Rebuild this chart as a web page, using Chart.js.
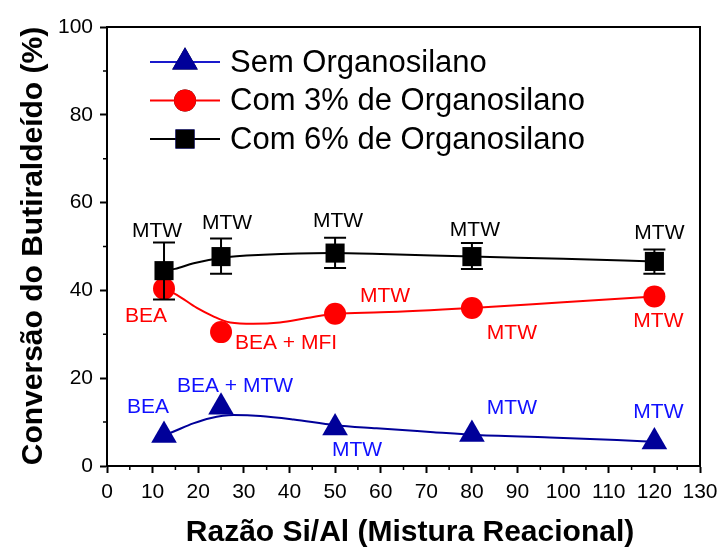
<!DOCTYPE html>
<html>
<head>
<meta charset="utf-8">
<script src="https://cdn.jsdelivr.net/npm/chart.js@4.4.1/dist/chart.umd.min.js"></script>
<style>
  html, body { margin: 0; padding: 0; background: #fff; }
  #wrap { width: 721px; height: 551px; }
</style>
</head>
<body>
<div id="wrap"><canvas id="c" width="721" height="551"></canvas></div>
<script>
// Si/Al ratio of the reaction mixture
const siAlRatio = [12.5, 25, 50, 80, 120];

// Butyraldehyde conversion (%)
const semOrgano  = [7.0, 13.4, 8.7, 7.2, 5.5];
const com3Organo = [40.4, 30.5, 34.7, 36.0, 38.6];
const com6Organo = [44.5, 47.7, 48.5, 47.7, 46.6];
const com6ErrUpper = [50.9, 51.8, 52.0, 50.8, 49.3];
const com6ErrLower = [37.9, 43.8, 45.1, 44.9, 43.8];

// Phases identified for each sample
const semPhases  = ['BEA', 'BEA + MTW', 'MTW', 'MTW', 'MTW'];
const com3Phases = ['BEA', 'BEA + MFI', 'MTW', 'MTW', 'MTW'];
const com6Phases = ['MTW', 'MTW', 'MTW', 'MTW', 'MTW'];

// Smoothed trend curves
const semFitX  = [12.5, 14.5, 18.9, 22.6, 27.7, 33.6, 40.9, 50, 59.1, 71.6, 80, 97.1, 111.8, 120];
const semFitY  = [7.0, 7.8, 9.7, 10.9, 11.6, 11.4, 10.6, 9.3, 8.6, 7.7, 7.1, 6.5, 5.9, 5.5];
const com3FitX = [12.5, 15.3, 19.7, 23.3, 27.0, 32.1, 37.9, 43.8, 50, 60, 80, 100, 120];
const com3FitY = [40.4, 39.0, 36.0, 34.1, 32.7, 32.4, 32.7, 33.7, 34.7, 35.0, 36.0, 37.3, 38.6];
const com6FitX = [12.5, 14.9, 19.0, 25, 34.3, 48.9, 60, 80, 100, 120];
const com6FitY = [44.5, 44.9, 46.2, 47.4, 48.1, 48.5, 48.3, 47.7, 47.2, 46.6];

// Axis ticks
const xTicks = [0, 10, 20, 30, 40, 50, 60, 70, 80, 90, 100, 110, 120, 130];
const yTicks = [0, 20, 40, 60, 80, 100];

const NAVY = '#000099';
const BLUE_TXT = '#1010ff';
const RED = '#ff0000';
const BLACK = '#000000';
const FONT = '"Liberation Sans", Arial, Helvetica, sans-serif';

const pts = (xs, ys) => xs.map((x, i) => ({ x: x, y: ys[i] }));

// pixel offsets of the phase labels from their markers
const com6LabelOff = [[-7, -39], [6, -33], [3, -32], [3, -26], [5, -28]];
const com3LabelOff = [[-18, 28], [65, 11], [50, -17], [40, 25], [4, 25]];
const semLabelOff  = [[-16, -28], [14, -21], [22, 22], [40, -26], [4, -30]];

const overlay = {
  id: 'overlay',
  afterDatasetsDraw(chart) {
    const ctx = chart.ctx;
    const xs = chart.scales.x, ys = chart.scales.y;

    // error bars
    ctx.save();
    ctx.strokeStyle = BLACK;
    ctx.lineWidth = 2;
    siAlRatio.forEach((v, i) => {
      const px = xs.getPixelForValue(v);
      const top = ys.getPixelForValue(com6ErrUpper[i]);
      const bot = ys.getPixelForValue(com6ErrLower[i]);
      ctx.beginPath();
      ctx.moveTo(px, top); ctx.lineTo(px, bot);
      ctx.moveTo(px - 11, top); ctx.lineTo(px + 11, top);
      ctx.moveTo(px - 11, bot); ctx.lineTo(px + 11, bot);
      ctx.stroke();
    });
    ctx.restore();
  },
  afterDraw(chart) {
    const ctx = chart.ctx;
    const xs = chart.scales.x, ys = chart.scales.y;
    const a = chart.chartArea;

    ctx.save();
    // frame
    ctx.strokeStyle = BLACK;
    ctx.lineWidth = 2;
    ctx.strokeRect(a.left, a.top, a.right - a.left, a.bottom - a.top);

    // minor ticks
    ctx.lineWidth = 1.5;
    ctx.beginPath();
    for (let i = 0; i < xTicks.length - 1; i++) {
      const px = xs.getPixelForValue((xTicks[i] + xTicks[i + 1]) / 2);
      ctx.moveTo(px, a.bottom); ctx.lineTo(px, a.bottom + 4);
    }
    for (let i = 0; i < yTicks.length - 1; i++) {
      const py = ys.getPixelForValue((yTicks[i] + yTicks[i + 1]) / 2);
      ctx.moveTo(a.left, py); ctx.lineTo(a.left - 4, py);
    }
    ctx.stroke();

    // phase labels
    ctx.font = '21px ' + FONT;
    ctx.textAlign = 'center';
    ctx.textBaseline = 'middle';
    const drawLabels = (vals, labels, offs, color) => {
      ctx.fillStyle = color;
      vals.forEach((v, i) => {
        const px = xs.getPixelForValue(siAlRatio[i]);
        const py = ys.getPixelForValue(v);
        ctx.fillText(labels[i], px + offs[i][0], py + offs[i][1]);
      });
    };
    drawLabels(com6Organo, com6Phases, com6LabelOff, BLACK);
    drawLabels(com3Organo, com3Phases, com3LabelOff, RED);
    drawLabels(semOrgano, semPhases, semLabelOff, BLUE_TXT);

    // legend
    const items = chart.data.datasets.filter(d => d.legendRow !== undefined);
    items.forEach(d => {
      const y = 62 + d.legendRow * 38.5;
      ctx.strokeStyle = d.legendLine;
      ctx.lineWidth = 2;
      ctx.beginPath();
      ctx.moveTo(150, y); ctx.lineTo(220, y);
      ctx.stroke();
      Chart.helpers.drawPoint(ctx, {
        pointStyle: d.pointStyle, radius: d.pointRadius, borderWidth: 0
      }, 185, y);
      ctx.fillStyle = d.backgroundColor;
      ctx.fill();
      ctx.fillStyle = BLACK;
      ctx.textAlign = 'left';
      ctx.font = '31px ' + FONT;
      ctx.fillText(d.label, 230, y + 1);
    });

    // axis titles
    ctx.fillStyle = BLACK;
    ctx.font = 'bold 30px ' + FONT;
    ctx.textAlign = 'center';
    ctx.textBaseline = 'middle';
    ctx.fillText('Razão Si/Al (Mistura Reacional)', 410, 533);
    ctx.translate(34, 246);
    ctx.rotate(-Math.PI / 2);
    ctx.fillText('Conversão do Butiraldeído (%)', 0, 0);
    ctx.restore();
  }
};

new Chart(document.getElementById('c'), {
  type: 'line',
  data: {
    datasets: [
      { label: 'Com 6% de Organosilano', legendRow: 2, legendLine: BLACK, data: pts(siAlRatio, com6Organo),
        showLine: false, pointStyle: 'rect', pointRadius: 13.5, pointBorderWidth: 0,
        backgroundColor: BLACK, borderColor: BLACK },
      { label: 'Com 3% de Organosilano', legendRow: 1, legendLine: RED, data: pts(siAlRatio, com3Organo),
        showLine: false, pointStyle: 'circle', pointRadius: 11, pointBorderWidth: 0,
        backgroundColor: RED, borderColor: RED },
      { label: 'Sem Organosilano', legendRow: 0, legendLine: '#1a1acc', data: pts(siAlRatio, semOrgano),
        showLine: false, pointStyle: 'triangle', pointRadius: 14.8, pointBorderWidth: 0,
        backgroundColor: NAVY, borderColor: NAVY },
      { data: pts(com6FitX, com6FitY), borderColor: BLACK, borderWidth: 2, pointRadius: 0,
        cubicInterpolationMode: 'monotone', fill: false },
      { data: pts(com3FitX, com3FitY), borderColor: RED, borderWidth: 2, pointRadius: 0,
        cubicInterpolationMode: 'monotone', fill: false },
      { data: pts(semFitX, semFitY), borderColor: NAVY, borderWidth: 2, pointRadius: 0,
        cubicInterpolationMode: 'monotone', fill: false }
    ]
  },
  options: {
    responsive: false,
    animation: false,
    layout: { padding: { top: 27, right: 21, left: 0, bottom: 0 } },
    plugins: { legend: { display: false }, tooltip: { enabled: false } },
    scales: {
      x: {
        type: 'linear', min: 0, max: 130,
        afterBuildTicks: s => { s.ticks = xTicks.map(v => ({ value: v })); },
        afterFit: s => { s.height = 85; s.paddingLeft = 0; s.paddingRight = 0; },
        grid: { drawOnChartArea: false, tickLength: 7, tickWidth: 2, tickColor: BLACK },
        border: { color: BLACK, width: 2 },
        ticks: { color: BLACK, font: { family: FONT, size: 21 }, padding: 7, maxRotation: 0, autoSkip: false }
      },
      y: {
        type: 'linear', min: 0, max: 100,
        afterBuildTicks: s => { s.ticks = yTicks.map(v => ({ value: v })); },
        afterFit: s => { s.width = 107; s.paddingTop = 0; s.paddingBottom = 0; },
        grid: { drawOnChartArea: false, tickLength: 7, tickWidth: 2, tickColor: BLACK },
        border: { color: BLACK, width: 2 },
        ticks: { color: BLACK, font: { family: FONT, size: 21 }, padding: 7, autoSkip: false }
      }
    }
  },
  plugins: [overlay]
});
</script>
</body>
</html>
